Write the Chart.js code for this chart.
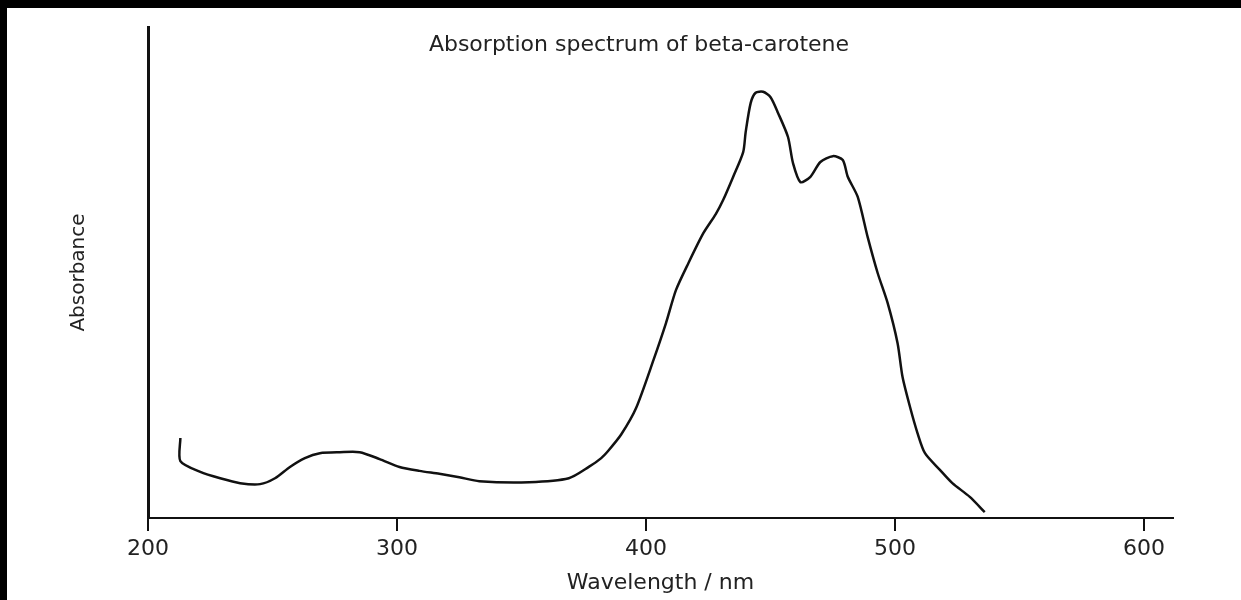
<!DOCTYPE html>
<html>
<head>
<meta charset="utf-8">
<title>Absorption spectrum of beta-carotene</title>
<script src="https://cdn.jsdelivr.net/npm/chart.js@4"></script>
<style>
  html, body { margin: 0; padding: 0; background: #000; }
  #wrap { width: 1241px; height: 600px; }
</style>
</head>
<body>
<div id="wrap"><canvas id="spectrum" width="1241" height="600"></canvas></div>
<script>
// данные (поглощение в условных единицах)
const wavelengths = [213, 213, 221, 229, 237, 245, 251, 257, 263, 269, 277, 285, 293, 301, 309, 317,
  325, 333, 353, 369, 377, 382, 385, 390, 396, 403, 408, 412, 417, 423, 428, 431, 435, 439, 440,
  442, 444, 447, 450, 453, 457, 459, 462, 466, 470, 475, 479, 481, 485, 489, 493, 497, 501, 503,
  506, 509, 512, 518, 523, 530, 536];
const absorbance = [0.163, 0.116, 0.094, 0.081, 0.071, 0.069, 0.081, 0.104, 0.122, 0.132, 0.134,
  0.134, 0.120, 0.104, 0.096, 0.090, 0.083, 0.075, 0.073, 0.081, 0.104, 0.122, 0.138, 0.170, 0.224,
  0.322, 0.397, 0.464, 0.519, 0.580, 0.619, 0.648, 0.695, 0.745, 0.786, 0.845, 0.866, 0.868, 0.857,
  0.825, 0.776, 0.723, 0.684, 0.695, 0.725, 0.737, 0.729, 0.695, 0.654, 0.572, 0.499, 0.438, 0.356,
  0.287, 0.226, 0.173, 0.132, 0.098, 0.071, 0.043, 0.012];
const xTicks = [200, 300, 400, 500, 600];

const chartTitle = 'Absorption spectrum of beta-carotene';
const xTitle = 'Wavelength / nm';
const yTitle = 'Absorbance';

const textColor = '#222';
const fontFamily = '"DejaVu Sans", "Liberation Sans", Arial, sans-serif';

// чёрная рамка как на скриншоте и заголовок внутри области графика
const framePlugin = {
  id: 'frame',
  beforeDraw(chart) {
    const ctx = chart.ctx;
    ctx.save();
    ctx.fillStyle = '#000';
    ctx.fillRect(0, 0, chart.width, chart.height);
    ctx.fillStyle = '#fff';
    ctx.fillRect(7, 8, chart.width - 7, chart.height - 8);
    ctx.restore();
  },
  afterDraw(chart) {
    const ctx = chart.ctx;
    const area = chart.chartArea;
    ctx.save();
    ctx.fillStyle = textColor;
    ctx.font = '22px ' + fontFamily;
    ctx.textAlign = 'center';
    ctx.textBaseline = 'middle';
    ctx.fillText(chartTitle, area.left + (area.right - area.left) * 0.479, area.top + 18);
    ctx.restore();
  }
};

const ctx = document.getElementById('spectrum').getContext('2d');
const spectrumChart = new Chart(ctx, {
  type: 'line',
  data: {
    datasets: [{
      label: chartTitle,
      data: wavelengths.map((w, i) => ({ x: w, y: absorbance[i] })),
      borderColor: '#111',
      borderWidth: 2.5,
      pointRadius: 0,
      tension: 0.25,
      fill: false
    }]
  },
  options: {
    responsive: false,
    animation: false,
    layout: { padding: { left: 0, right: 68, top: 27, bottom: 0 } },
    plugins: {
      legend: { display: false },
      tooltip: { enabled: false }
    },
    scales: {
      x: {
        type: 'linear',
        min: 200,
        max: 611.6,
        afterBuildTicks(scale) {
          scale.ticks = xTicks.map(v => ({ value: v }));
        },
        afterFit(scale) {
          scale.height = 82;
        },
        grid: {
          display: true,
          drawOnChartArea: false,
          drawTicks: true,
          tickLength: 13,
          color: '#111',
          lineWidth: 2
        },
        border: { display: true, color: '#111', width: 2 },
        ticks: {
          color: textColor,
          padding: 5,
          maxRotation: 0,
          font: { family: fontFamily, size: 22 }
        },
        title: {
          display: true,
          text: xTitle,
          color: textColor,
          padding: { top: 0, bottom: 4 },
          font: { family: fontFamily, size: 22 }
        }
      },
      y: {
        type: 'linear',
        min: 0,
        max: 1,
        afterFit(scale) {
          scale.width = 148;
        },
        grid: { display: false },
        border: { display: true, color: '#111', width: 3 },
        ticks: { display: false },
        title: {
          display: true,
          text: yTitle,
          color: textColor,
          padding: { top: 67, bottom: 0 },
          font: { family: fontFamily, size: 20 }
        }
      }
    }
  },
  plugins: [framePlugin]
});
</script>
</body>
</html>
